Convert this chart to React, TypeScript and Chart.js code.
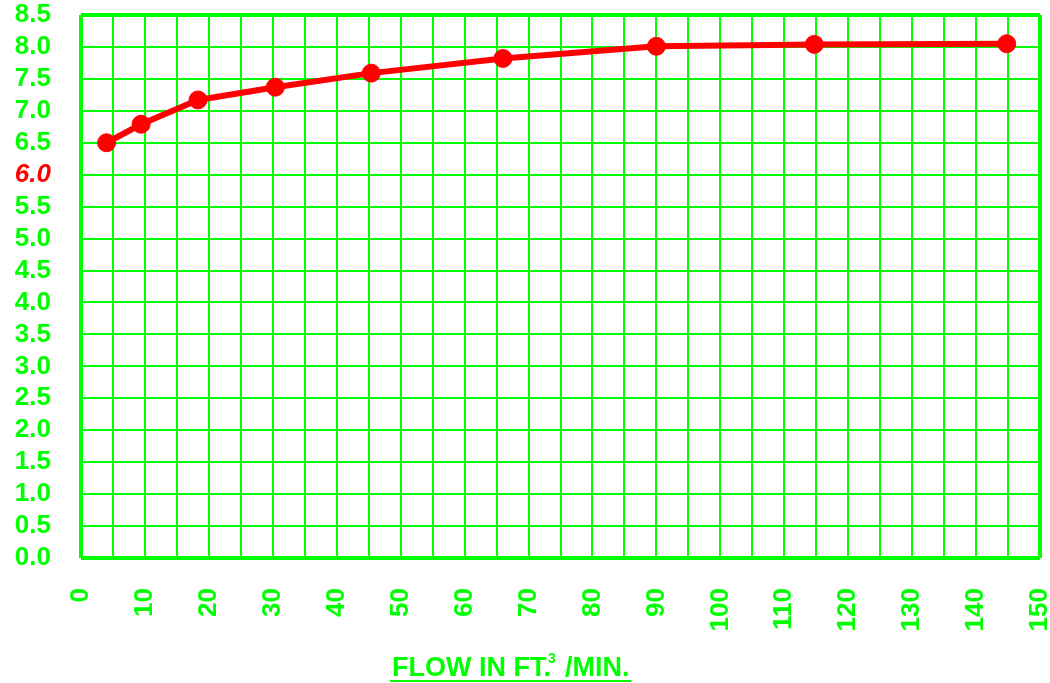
import React, { useEffect, useRef } from "react";
import { Chart, registerables } from "chart.js";

Chart.register(...registerables);

const flowValues = [4, 9.4, 18.3, 30.4, 45.4, 66, 90, 114.7, 144.8];
const phValues = [6.5, 6.79, 7.17, 7.37, 7.59, 7.82, 8.01, 8.04, 8.05];
const xMin = 0;
const xMax = 150;
const yMin = 0;
const yMax = 8.5;
const highlightedY = 6;
const titleMain = "FLOW IN FT.";
const titleSup = "3";
const titleEnd = "/MIN.";

const GREEN = "#00ff00";
const RED = "#ff0000";
const FAMILY = "'Liberation Sans', Arial, sans-serif";
const TICK_SIZE = 26;

const titlePlugin = {
  id: "flowTitle",
  afterDraw(chart: any) {
    const ctx = chart.ctx;
    ctx.save();
    ctx.fillStyle = GREEN;
    ctx.textBaseline = "alphabetic";
    ctx.textAlign = "left";
    const x0 = 392;
    const base = 676;
    ctx.font = `bold 27px ${FAMILY}`;
    ctx.fillText(titleMain, x0, base);
    const w1 = ctx.measureText(titleMain).width;
    ctx.font = `bold 14px ${FAMILY}`;
    ctx.fillText(titleSup, x0 + w1 - 3, base - 13);
    ctx.font = `bold 27px ${FAMILY}`;
    const x2 = x0 + w1 + 14;
    ctx.fillText(titleEnd, x2, base);
    const w2 = ctx.measureText(titleEnd).width;
    ctx.strokeStyle = GREEN;
    ctx.lineWidth = 2;
    ctx.beginPath();
    ctx.moveTo(x0 - 2, 681);
    ctx.lineTo(x2 + w2 + 2, 681);
    ctx.stroke();
    ctx.restore();
  },
};

export default function App() {
  const ref = useRef<HTMLCanvasElement | null>(null);
  useEffect(() => {
    if (!ref.current) return;
    const chart = new Chart(ref.current, {
      type: "line",
      data: {
        datasets: [
          {
            data: flowValues.map((x, i) => ({ x, y: phValues[i] })),
            borderColor: RED,
            backgroundColor: RED,
            borderWidth: 6,
            pointRadius: 9,
            pointBackgroundColor: RED,
            pointBorderColor: RED,
            pointBorderWidth: 1,
            tension: 0,
          },
        ],
      },
      options: {
        animation: false,
        responsive: false,
        maintainAspectRatio: false,
        layout: { padding: { top: 15, right: 8, left: 0, bottom: 0 } },
        plugins: { legend: { display: false }, tooltip: { enabled: false } },
        scales: {
          x: {
            type: "linear",
            min: xMin,
            max: xMax,
            afterFit: (s: any) => {
              s.height = 125;
              s.paddingLeft = 0;
              s.paddingRight = 0;
            },
            ticks: {
              stepSize: 5,
              autoSkip: false,
              maxRotation: 90,
              minRotation: 90,
              padding: 30,
              color: GREEN,
              font: { family: FAMILY, size: TICK_SIZE, weight: "bold" },
              callback: (v: any) => (Number(v) % 10 === 0 ? String(v) : ""),
            },
            grid: {
              color: GREEN,
              drawTicks: false,
              lineWidth: (c: any) =>
                c.tick && (c.tick.value === xMin || c.tick.value === xMax) ? 4 : 2,
            },
            border: { display: false },
          },
          y: {
            type: "linear",
            min: yMin,
            max: yMax,
            afterFit: (s: any) => {
              s.width = 81;
              s.paddingTop = 0;
              s.paddingBottom = 0;
            },
            ticks: {
              stepSize: 0.5,
              autoSkip: false,
              padding: 30,
              color: (c: any) => (c.tick && c.tick.value === highlightedY ? RED : GREEN),
              font: (c: any) => ({
                family: FAMILY,
                size: TICK_SIZE,
                weight: "bold",
                style: c.tick && c.tick.value === highlightedY ? "italic" : "normal",
              }),
              callback: (v: any) => Number(v).toFixed(1),
            },
            grid: {
              color: GREEN,
              drawTicks: false,
              lineWidth: (c: any) =>
                c.tick && (c.tick.value === yMin || c.tick.value === yMax) ? 4 : 2,
            },
            border: { display: false },
          },
        },
      },
      plugins: [titlePlugin],
    } as any);
    return () => chart.destroy();
  }, []);
  return (
    <div style={{ position: "absolute", left: 0, top: 0, width: 1050, height: 683, background: "#fff" }}>
      <canvas ref={ref} width={1050} height={683} style={{ width: 1050, height: 683 }} />
    </div>
  );
}
